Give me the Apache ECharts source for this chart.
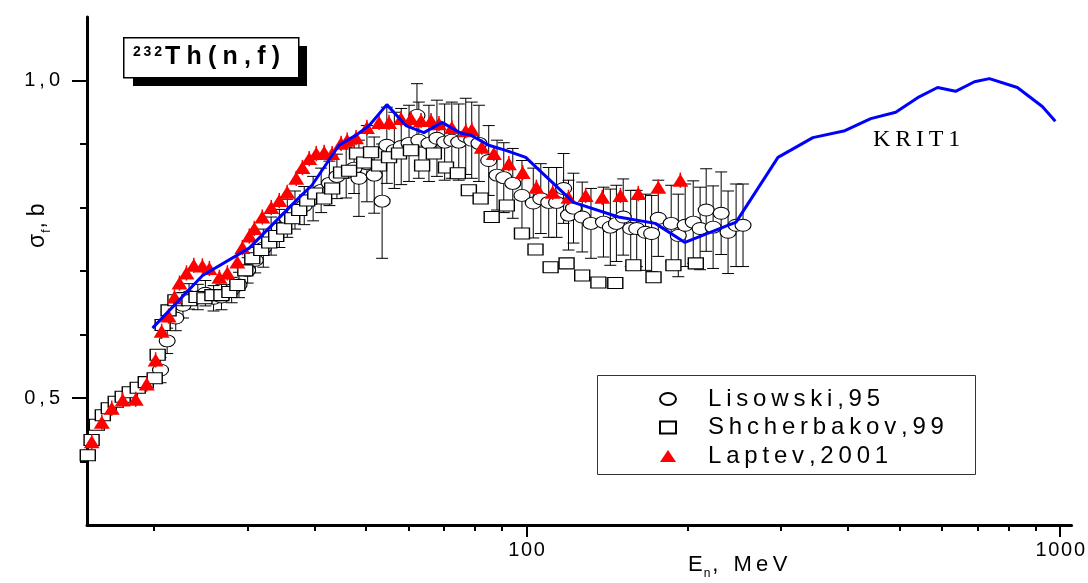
<!DOCTYPE html>
<html>
<head>
<meta charset="utf-8">
<script src="https://cdn.jsdelivr.net/npm/echarts@6/dist/echarts.min.js"></script>
<style>
  html, body { margin: 0; padding: 0; background: #fff; }
  #chart { width: 1088px; height: 583px; }
</style>
</head>
<body>
<div id="chart"></div>
<script>
// Lisowski,95 (E in MeV, sigma in b, error in b)
const liE = [20.6, 21.2, 22.0, 22.7, 23.3, 24.2, 25.0, 25.9, 26.8, 28.0, 28.9, 30.0, 31.0, 32.1, 33.2, 34.4, 35.6, 36.8, 38.3, 39.8,
  41.2, 42.7, 44.1, 45.9, 47.5, 48.5, 50.2, 51.8, 53.6, 54.7, 56.5, 58.2, 60.2, 62.3, 62.8, 65.6, 67.9, 70.2, 72.4, 74.6,
  76.9, 78.9, 81.4, 84.9, 88.0, 90.6, 94.2, 98.0, 102.9, 106.3, 110.0, 113.8, 117.3, 119.8, 122.4, 127.1, 132.0, 139.3, 143.5, 147.3,
  151.7, 156.7, 160.8, 167.0, 171.5, 176.5, 186.6, 192.4, 198.2, 205.2, 211.4, 217.0, 223.6, 231.5, 238.5, 246.9, 254.4];
const liS = [0.544, 0.590, 0.626, 0.646, 0.660, 0.659, 0.665, 0.657, 0.659, 0.670, 0.678, 0.701, 0.717, 0.736, 0.755, 0.767, 0.783, 0.796, 0.803, 0.814,
  0.827, 0.838, 0.849, 0.855, 0.862, 0.846, 0.869, 0.851, 0.810, 0.898, 0.890, 0.896, 0.901, 0.945, 0.906, 0.901, 0.909, 0.903, 0.906, 0.903,
  0.912, 0.906, 0.901, 0.874, 0.851, 0.847, 0.838, 0.819, 0.807, 0.814, 0.808, 0.808, 0.830, 0.788, 0.799, 0.785, 0.775, 0.777, 0.769, 0.775,
  0.785, 0.767, 0.767, 0.761, 0.759, 0.783, 0.775, 0.756, 0.772, 0.777, 0.767, 0.796, 0.769, 0.791, 0.761, 0.772, 0.772];
const liErr = [0.02, 0.02, 0.02, 0.02, 0.02, 0.02, 0.02, 0.02, 0.02, 0.02, 0.02, 0.02, 0.02, 0.03, 0.03, 0.03, 0.03, 0.03, 0.03, 0.035,
  0.035, 0.035, 0.035, 0.04, 0.04, 0.06, 0.06, 0.06, 0.09, 0.06, 0.06, 0.06, 0.06, 0.05, 0.06, 0.06, 0.06, 0.06, 0.06, 0.06,
  0.06, 0.06, 0.06, 0.055, 0.055, 0.055, 0.055, 0.055, 0.055, 0.055, 0.055, 0.055, 0.055, 0.055, 0.055, 0.055, 0.055, 0.055, 0.06, 0.06,
  0.06, 0.06, 0.06, 0.06, 0.06, 0.06, 0.06, 0.065, 0.065, 0.065, 0.065, 0.065, 0.065, 0.065, 0.065, 0.065, 0.065];

// Shcherbakov,99
const shE = [15.05, 15.3, 15.65, 16.06, 16.48, 16.98, 17.5, 18.04, 18.67, 19.33, 20.09, 20.35, 20.79, 21.33, 21.97, 22.55, 23.34, 24.06, 24.9, 25.77,
  26.79, 27.73, 28.7, 29.7, 30.61, 31.82, 32.93, 33.94, 35.13, 36.37, 37.48, 38.79, 40.17, 41.74, 43.2, 44.9, 46.48, 48.1, 49.6, 51.1,
  52.89, 55.22, 57.65, 60.7, 63.7, 67.0, 70.6, 74.3, 77.93, 82.0, 86.0, 91.8, 98.0, 103.9, 110.9, 118.8, 127.1, 136.3, 146.6, 158.5,
  172.9, 188.4, 207.5];
const shS = [0.410, 0.434, 0.458, 0.473, 0.484, 0.494, 0.502, 0.509, 0.516, 0.525, 0.531, 0.568, 0.615, 0.638, 0.654, 0.657, 0.654, 0.659, 0.657, 0.662,
  0.662, 0.667, 0.678, 0.701, 0.720, 0.733, 0.745, 0.755, 0.767, 0.783, 0.796, 0.811, 0.822, 0.814, 0.830, 0.855, 0.858, 0.885, 0.871, 0.887,
  0.866, 0.879, 0.885, 0.890, 0.866, 0.885, 0.863, 0.854, 0.827, 0.814, 0.785, 0.803, 0.759, 0.734, 0.706, 0.712, 0.693, 0.682, 0.681, 0.709,
  0.690, 0.709, 0.712];

// Laptev,2001
const lpE = [15.31, 15.99, 16.69, 17.5, 18.51, 19.41, 20.17, 20.7, 21.33, 21.88, 22.36, 23.04, 23.78, 24.68, 25.44, 26.56, 27.49, 28.7, 29.33, 30.22,
  30.88, 31.96, 33.22, 34.39, 35.59, 37.0, 38.0, 39.13, 40.34, 41.74, 43.2, 44.9, 46.1, 47.9, 50.2, 52.89, 55.22, 58.15, 60.7, 63.4,
  66.2, 68.5, 72.4, 76.9, 78.9, 82.4, 86.8, 92.6, 98.3, 104.3, 111.9, 119.8, 129.0, 138.6, 149.9, 161.9, 176.5, 194.1];
const lpS = [0.431, 0.462, 0.484, 0.497, 0.498, 0.522, 0.560, 0.605, 0.629, 0.659, 0.681, 0.697, 0.709, 0.708, 0.704, 0.690, 0.697, 0.714, 0.737, 0.755,
  0.767, 0.785, 0.800, 0.811, 0.824, 0.846, 0.863, 0.877, 0.885, 0.887, 0.885, 0.901, 0.906, 0.910, 0.926, 0.934, 0.934, 0.940, 0.940, 0.937,
  0.937, 0.932, 0.926, 0.921, 0.923, 0.895, 0.885, 0.869, 0.855, 0.832, 0.824, 0.816, 0.819, 0.816, 0.819, 0.822, 0.832, 0.843];
const lpErr = 0.012; // small red error bars, about the same everywhere

// KRIT1 calculation
const krE = [19.9, 24.7, 30.2, 37.5, 39.6, 44.5, 47.9, 50.7, 54.7, 59.4, 64.2, 69.4, 75.3, 78.6, 84.9, 91.4, 99.6, 122.4, 148.6, 174.2,
  198, 246.9, 295.8, 343.9, 394.8, 441.5, 491.7, 540.5, 589, 636.5, 690.7, 736.6, 831, 925.5, 979];
const krS = [0.610, 0.693, 0.736, 0.816, 0.835, 0.898, 0.914, 0.929, 0.962, 0.929, 0.918, 0.934, 0.917, 0.914, 0.898, 0.890, 0.879, 0.808, 0.785, 0.775,
  0.745, 0.777, 0.879, 0.910, 0.921, 0.940, 0.950, 0.973, 0.989, 0.983, 0.998, 1.003, 0.989, 0.959, 0.936];

// ticks
const xMajor = [100, 1000];
const xMinor = [20, 30, 40, 50, 60, 70, 80, 90, 200, 300, 400, 500, 600, 700, 800, 900];
const yMajor = [0.5, 1.0];
const yMinor = [0.4, 0.6, 0.7, 0.8, 0.9];

const FONT = '"Liberation Sans", Arial, sans-serif';
const spaced = (s) => s.split('').join('\u2009');
const zip = (xs, ys) => xs.map((x, i) => [x, ys[i]]);

const ellipse = 'path://M0,6A8,6,0,1,1,16,6A8,6,0,1,1,0,6Z';

// vertical error bar with caps
const errorBar = (color, cap, width) => (params, api) => {
  const lo = api.coord([api.value(0), api.value(1)]);
  const hi = api.coord([api.value(0), api.value(2)]);
  const st = { stroke: color, lineWidth: width };
  const kids = [{ type: 'line', shape: { x1: lo[0], y1: lo[1], x2: hi[0], y2: hi[1] }, style: st }];
  if (cap > 0) {
    kids.push({ type: 'line', shape: { x1: lo[0] - cap, y1: lo[1], x2: lo[0] + cap, y2: lo[1] }, style: st });
    kids.push({ type: 'line', shape: { x1: hi[0] - cap, y1: hi[1], x2: hi[0] + cap, y2: hi[1] }, style: st });
  }
  return { type: 'group', children: kids };
};

const chart = echarts.init(document.getElementById('chart'));

const option = {
  animation: false,
  backgroundColor: '#fff',
  grid: { left: 87, right: 15, top: 17, bottom: 58 },
  xAxis: [
    {
      type: 'log', min: 15, max: 1050,
      axisLine: { lineStyle: { color: '#000', width: 3 } },
      axisTick: { customValues: xMinor, length: 6, lineStyle: { color: '#000', width: 2 } },
      axisLabel: { show: false },
      splitLine: { show: false },
    },
    {
      type: 'log', min: 15, max: 1050, position: 'bottom',
      axisLine: { show: false },
      axisTick: { customValues: xMajor, length: 12, lineStyle: { color: '#000', width: 2 } },
      axisLabel: {
        customValues: xMajor, margin: 15, color: '#000', fontSize: 20, fontFamily: FONT,
        formatter: (v) => String(Math.round(v)).split('').join('\u200A'),
      },
      splitLine: { show: false },
    },
  ],
  yAxis: [
    {
      type: 'value', min: 0.3, max: 1.1,
      axisLine: { show: true, lineStyle: { color: '#000', width: 3 } },
      axisTick: { show: true, customValues: yMinor, length: 7, lineStyle: { color: '#000', width: 2 } },
      axisLabel: { show: false },
      splitLine: { show: false },
    },
    {
      type: 'value', min: 0.3, max: 1.1, position: 'left',
      axisLine: { show: false },
      axisTick: { show: true, customValues: yMajor, length: 15, lineStyle: { color: '#000', width: 2 } },
      axisLabel: {
        customValues: yMajor, margin: 27, color: '#000', fontSize: 20, fontFamily: FONT,
        formatter: (v) => spaced(v.toFixed(1).replace('.', ',')),
      },
      splitLine: { show: false },
    },
  ],
  legend: {
    left: 654, top: 382, orient: 'vertical',
    itemWidth: 16, itemHeight: 12, itemGap: 4.5,
    textStyle: { fontSize: 24, fontFamily: FONT, color: '#000', lineHeight: 24, padding: [0, 0, 0, 27] },
    formatter: spaced,
    data: ['Lisowski,95', 'Shcherbakov,99', 'Laptev,2001'],
  },
  graphic: [
    // legend frame
    { type: 'rect', left: 597, top: 375, shape: { width: 378, height: 99 },
      style: { fill: '#fff', stroke: '#333', lineWidth: 1 }, z: 1 },
    // title box with shadow
    { type: 'rect', left: 133, top: 46, shape: { width: 174, height: 40 }, style: { fill: '#000' }, z: 1 },
    { type: 'rect', left: 123, top: 37, shape: { width: 175, height: 40 },
      style: { fill: '#fff', stroke: '#000', lineWidth: 1.5 }, z: 2 },
    { type: 'text', left: 133, top: 45, z: 3,
      style: {
        text: '{sup|' + spaced('232') + '}{b|' + spaced('Th(n,f)').split('\u2009').join('\u2005') + '}',
        rich: {
          sup: { fontSize: 14, fontWeight: 'bold', fontFamily: FONT, fill: '#000', lineHeight: 14, verticalAlign: 'top', padding: [0, 3, 0, 0] },
          b: { fontSize: 25, fontWeight: 'bold', fontFamily: FONT, fill: '#000', lineHeight: 26, verticalAlign: 'top' },
        },
      } },
    // KRIT1 label
    { type: 'text', left: 873, top: 128, z: 3,
      style: { text: spaced('KRIT1'), fontSize: 24, fontFamily: '"Liberation Serif", "Times New Roman", serif', fill: '#000' } },
    // x axis title
    { type: 'text', left: 688, top: 554, z: 3,
      style: {
        text: '{a|E}{s|n}{a|' + spaced(', MeV') + '}',
        rich: {
          a: { fontSize: 22, fontFamily: FONT, fill: '#000', lineHeight: 22, verticalAlign: 'top' },
          s: { fontSize: 12, fontFamily: FONT, fill: '#000', lineHeight: 12, verticalAlign: 'top', padding: [14, 2, 0, 1] },
        },
      } },
    // y axis title
    { type: 'text', x: 26, y: 248, rotation: Math.PI / 2, z: 3,
      style: {
        text: '{a|σ}{s|f}{a|,\u2005b}',
        rich: {
          a: { fontSize: 23, fontFamily: FONT, fill: '#000', lineHeight: 23, verticalAlign: 'top' },
          s: { fontSize: 12, fontFamily: FONT, fill: '#000', lineHeight: 12, verticalAlign: 'top', padding: [15, 1, 0, 1] },
        },
      } },
  ],
  series: [
    {
      name: 'Lisowski,95 err', type: 'custom', silent: true, z: 2,
      data: liE.map((e, i) => [e, liS[i] - liErr[i], liS[i] + liErr[i]]),
      encode: { x: 0, y: [1, 2] },
      renderItem: errorBar('#000', 6, 1),
    },
    {
      name: 'Lisowski,95', type: 'scatter', z: 3,
      symbol: ellipse, symbolSize: [16, 12],
      itemStyle: { color: '#fff', borderColor: '#000', borderWidth: 1, opacity: 1 },
      data: zip(liE, liS),
    },
    {
      name: 'Shcherbakov,99', type: 'scatter', z: 4,
      symbol: 'rect', symbolSize: [15, 11],
      itemStyle: { color: '#fff', borderColor: '#000', borderWidth: 1.2, opacity: 1 },
      data: zip(shE, shS),
    },
    {
      name: 'Laptev,2001 err', type: 'custom', silent: true, z: 5,
      data: lpE.map((e, i) => [e, lpS[i] - lpErr, lpS[i] + lpErr]),
      encode: { x: 0, y: [1, 2] },
      renderItem: errorBar('#ff0000', 0, 1.5),
    },
    {
      name: 'Laptev,2001', type: 'scatter', z: 5,
      symbol: 'triangle', symbolSize: [16, 13],
      itemStyle: { color: '#ff0000', opacity: 1 },
      data: zip(lpE, lpS),
    },
    {
      name: 'KRIT1', type: 'line', z: 6,
      symbol: 'none', smooth: false,
      lineStyle: { color: '#0000ff', width: 3 },
      data: zip(krE, krS),
    },
  ],
};

chart.setOption(option);
</script>
</body>
</html>
